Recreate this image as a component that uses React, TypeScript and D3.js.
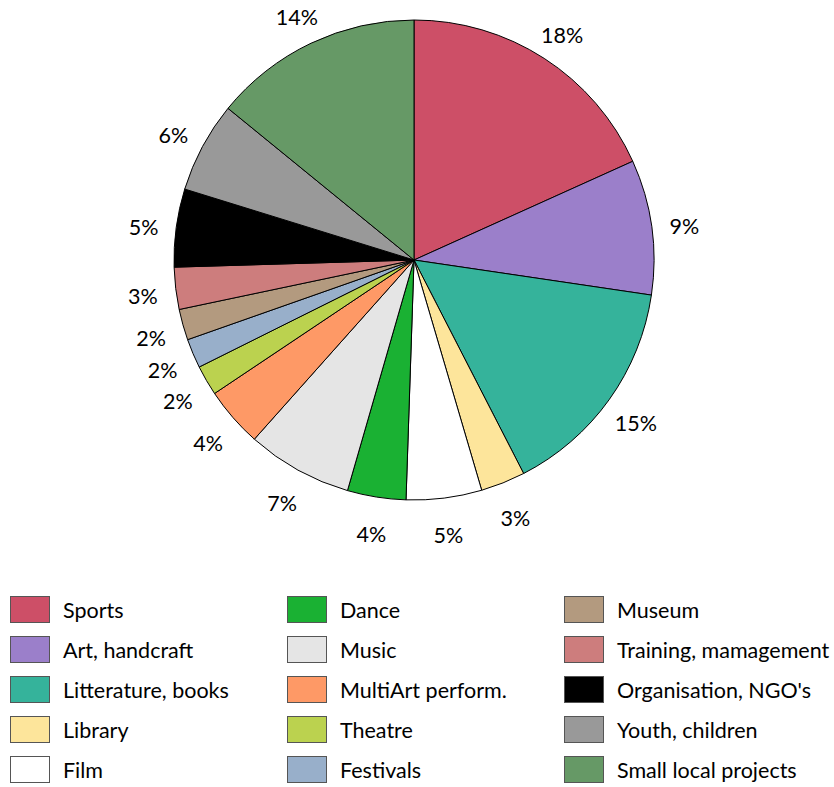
import React from "react";
import * as d3 from "d3";

const categories = [
  "Sports", "Art, handcraft", "Litterature, books", "Library", "Film",
  "Dance", "Music", "MultiArt perform.", "Theatre", "Festivals",
  "Museum", "Training, mamagement", "Organisation, NGO's", "Youth, children", "Small local projects",
];
const values = [18.25, 9.08, 15.11, 3.0, 5.08, 3.94, 7.11, 4.03, 2.03, 1.97, 2.08, 2.83, 5.25, 6.11, 14.11];
const colors = [
  "#cd4f67", "#9b7fca", "#35b39b", "#fde59b", "#ffffff",
  "#1ab133", "#e5e5e5", "#fe9966", "#bbd24f", "#98afca",
  "#b39a7f", "#cd7d7d", "#000000", "#999999", "#669966",
];

const W = 834, H = 787;
const cx = 414, cy = 260, R = 240, labelR = 273;
const FONT = "Lato, 'Open Sans', sans-serif";

export default function App() {
  const total = d3.sum(values);
  const pie = d3.pie<number>().sort(null).value((d) => d)(values);
  const arc = d3.arc<d3.PieArcDatum<number>>().innerRadius(0).outerRadius(R);
  const labelArc = d3.arc<d3.PieArcDatum<number>>().innerRadius(labelR).outerRadius(labelR);

  const rows = 5;
  const colX = d3.scaleOrdinal<number, number>().domain([0, 1, 2]).range([10, 287, 564]);
  const rowY = d3.scaleLinear().domain([0, 1]).range([596, 636]);

  return (
    <svg width={W} height={H} style={{ position: "absolute", left: 0, top: 0, fontFamily: FONT }}>
      <g transform={`translate(${cx},${cy})`}>
        {pie.map((p, i) => (
          <path key={i} d={arc(p) || ""} fill={colors[i]} stroke="#000" strokeWidth={1} strokeLinejoin="round" />
        ))}
        {pie.map((p, i) => {
          const [x, y] = labelArc.centroid(p);
          return (
            <text key={"l" + i} x={x} y={y + 4} textAnchor="middle" dominantBaseline="central" fontSize={21.5} fill="#000">
              {Math.round((values[i] / total) * 100)}%
            </text>
          );
        })}
      </g>
      <g>
        {categories.map((c, i) => {
          const col = Math.floor(i / rows);
          const row = i % rows;
          const x = colX(col);
          const y = rowY(row);
          return (
            <g key={"g" + i}>
              <rect x={x + 0.5} y={y + 0.5} width={39} height={26} fill={colors[i]} stroke="#555" strokeWidth={1} />
              <text x={x + 53} y={y + 14} dominantBaseline="central" fontSize={21.5} fill="#000">
                {c}
              </text>
            </g>
          );
        })}
      </g>
    </svg>
  );
}
